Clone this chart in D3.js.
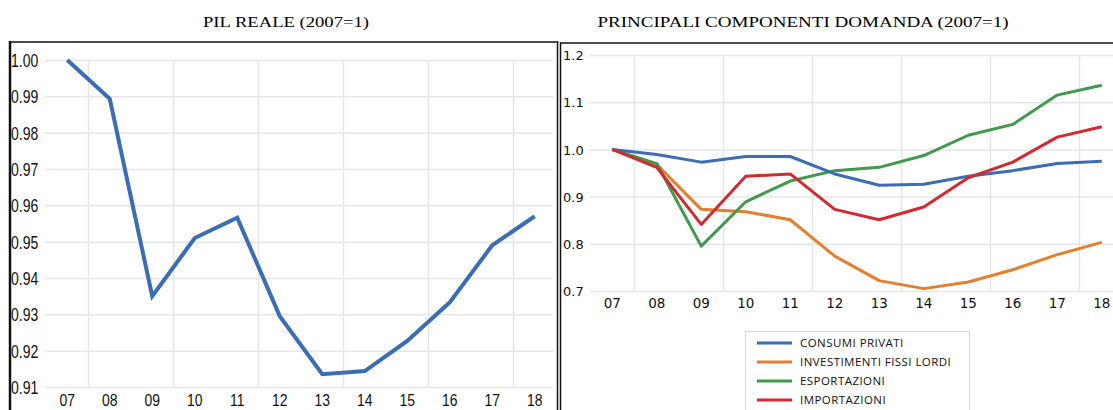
<!DOCTYPE html>
<html><head><meta charset="utf-8">
<script src="https://cdn.jsdelivr.net/npm/d3@7"></script>
<style>
html,body{margin:0;padding:0;background:#fff;overflow:hidden;}
svg{display:block;}
</style></head>
<body>
<svg id="c" width="1113" height="410"></svg>
<script>
// ---- data ----
const years = ["07","08","09","10","11","12","13","14","15","16","17","18"];
const pilReale = [1.000,0.9893,0.9350,0.9510,0.9566,0.9295,0.9135,0.9144,0.9227,0.9333,0.9490,0.9570];
const pilTicks = [0.91,0.92,0.93,0.94,0.95,0.96,0.97,0.98,0.99,1.00];

const consumiPrivati = [1.000,0.989,0.973,0.985,0.985,0.948,0.924,0.926,0.943,0.955,0.970,0.975];
const investimentiFissiLordi = [1.000,0.968,0.873,0.868,0.851,0.774,0.722,0.705,0.719,0.745,0.777,0.803];
const esportazioni = [1.000,0.970,0.795,0.889,0.933,0.955,0.962,0.987,1.030,1.053,1.115,1.136];
const importazioni = [1.000,0.962,0.841,0.943,0.948,0.873,0.851,0.878,0.940,0.973,1.026,1.048];
const compTicks = [0.7,0.8,0.9,1.0,1.1,1.2];
const seriesNames = ["CONSUMI PRIVATI","INVESTIMENTI FISSI LORDI","ESPORTAZIONI","IMPORTAZIONI"];
const seriesColors = ["#3b6db5","#e67e2d","#3f9a4a","#d3292f"];

const svg = d3.select("#c");
const gridColor = "#e6e6e6";
const narrowFont = "Liberation Sans, Arial, sans-serif";

// ---- titles ----
svg.append("text").attr("x",286).attr("y",27).attr("text-anchor","middle")
  .attr("font-family","Liberation Serif, Times New Roman, serif").attr("font-size",15.5)
  .attr("textLength",166).attr("lengthAdjust","spacingAndGlyphs")
  .text("PIL REALE (2007=1)");
svg.append("text").attr("x",803).attr("y",27).attr("text-anchor","middle")
  .attr("font-family","Liberation Serif, Times New Roman, serif").attr("font-size",15.5)
  .attr("textLength",411).attr("lengthAdjust","spacingAndGlyphs")
  .text("PRINCIPALI COMPONENTI DOMANDA (2007=1)");

// ---- left chart ----
{
  const x = d3.scaleBand().domain(years).range([46,556]);
  const y = d3.scaleLinear().domain([0.91,1.00]).range([387,60]);
  const g = svg.append("g");
  g.append("g").attr("transform","translate(45,0)")
    .call(d3.axisLeft(y).tickValues(pilTicks).tickSize(-508).tickFormat(""))
    .call(a=>a.select(".domain").remove())
    .call(a=>a.selectAll("line").attr("stroke",gridColor).attr("stroke-width",1.5));
  const vgrid = years.filter((d,i)=>i%2===1);
  g.selectAll(".vg").data(vgrid).enter().append("line")
    .attr("x1",d=>x(d)).attr("x2",d=>x(d)).attr("y1",y(1.00)).attr("y2",y(0.91))
    .attr("stroke",gridColor).attr("stroke-width",1.5);
  g.append("g").attr("transform","translate(11,0)")
    .call(d3.axisRight(y).tickValues(pilTicks).tickSize(0).tickPadding(0).tickFormat(d3.format(".2f")))
    .call(a=>a.select(".domain").remove())
    .call(a=>a.selectAll("text").attr("font-family",narrowFont)
      .attr("font-size",18).attr("fill","#111").attr("dy","0.36em").attr("transform","scale(0.78,1)"));
  g.append("g").attr("transform","translate(0,406)")
    .call(d3.axisBottom(x).tickSize(0).tickPadding(0))
    .call(a=>a.select(".domain").remove())
    .call(a=>a.selectAll("text").attr("font-family",narrowFont)
      .attr("font-size",17).attr("fill","#111").attr("y",0).attr("dy","0").attr("transform","scale(0.82,1)"));
  g.append("path").datum(pilReale)
    .attr("fill","none").attr("stroke","#3b6db5").attr("stroke-width",4).attr("stroke-linejoin","miter")
    .attr("d",d3.line().x((d,i)=>x(years[i])+x.bandwidth()/2).y(d=>y(d)));
  g.append("line").attr("x1",10).attr("x2",10).attr("y1",41).attr("y2",410).attr("stroke","#111").attr("stroke-width",2.5);
  g.append("line").attr("x1",9).attr("x2",558.5).attr("y1",42).attr("y2",42).attr("stroke","#111").attr("stroke-width",1.5);
  g.append("line").attr("x1",557.5).attr("x2",557.5).attr("y1",41.5).attr("y2",410).attr("stroke","#111").attr("stroke-width",1.5);
}

// ---- right chart ----
{
  const x = d3.scaleBand().domain(years).range([590,1124]);
  const y = d3.scaleLinear().domain([0.7,1.2]).range([291,55]);
  const g = svg.append("g");
  g.append("g").attr("transform","translate(590,0)")
    .call(d3.axisLeft(y).tickValues(compTicks).tickSize(-523).tickFormat(""))
    .call(a=>a.select(".domain").remove())
    .call(a=>a.selectAll("line").attr("stroke",gridColor).attr("stroke-width",1.5));
  const vgrid = years.filter((d,i)=>i%2===1);
  g.selectAll(".vg").data(vgrid).enter().append("line")
    .attr("x1",d=>x(d)).attr("x2",d=>x(d)).attr("y1",y(1.2)).attr("y2",y(0.7)+1)
    .attr("stroke",gridColor).attr("stroke-width",1.5);
  g.append("g").attr("transform","translate(563,0)")
    .call(d3.axisRight(y).tickValues(compTicks).tickSize(0).tickPadding(0).tickFormat(d3.format(".1f")))
    .call(a=>a.select(".domain").remove())
    .call(a=>a.selectAll("text").attr("font-family","DejaVu Sans, Verdana, sans-serif")
      .attr("font-size",13).attr("fill","#111").attr("dy","0.36em"));
  g.append("g").attr("transform","translate(0,298)")
    .call(d3.axisBottom(x).tickSize(0).tickPadding(0))
    .call(a=>a.select(".domain").remove())
    .call(a=>a.selectAll("text").attr("font-family","DejaVu Sans, Verdana, sans-serif")
      .attr("font-size",13.5).attr("fill","#111").attr("dy","0.71em"));
  const all = [consumiPrivati,investimentiFissiLordi,esportazioni,importazioni];
  const line = d3.line().x((d,i)=>x(years[i])+x.bandwidth()/2).y(d=>y(d));
  const order = [1,2,0,3];
  order.forEach(k=>{
    g.append("path").datum(all[k]).attr("fill","none").attr("stroke",seriesColors[k])
      .attr("stroke-width",3).attr("stroke-linejoin","round").attr("d",line);
  });
  g.append("line").attr("x1",560.5).attr("x2",560.5).attr("y1",42.5).attr("y2",410).attr("stroke","#111").attr("stroke-width",1.5);
  g.append("line").attr("x1",560).attr("x2",1113).attr("y1",43).attr("y2",43).attr("stroke","#111").attr("stroke-width",1.5);
  const lg = g.append("g");
  lg.append("rect").attr("x",745.5).attr("y",331.5).attr("width",224).attr("height",90)
    .attr("fill","#fff").attr("stroke","#d9d9d9").attr("stroke-width",1);
  const rowY = d3.scalePoint().domain(seriesNames).range([343,400]);
  seriesNames.forEach((n,k)=>{
    lg.append("line").attr("x1",757).attr("x2",792).attr("y1",rowY(n)).attr("y2",rowY(n))
      .attr("stroke",seriesColors[k]).attr("stroke-width",3);
    lg.append("text").attr("x",800).attr("y",rowY(n)).attr("dy","0.36em")
      .attr("font-family","Open Sans, sans-serif").attr("font-size",11.5).attr("letter-spacing",0.45)
      .attr("fill","#111").text(n);
  });
}
</script>
</body></html>
